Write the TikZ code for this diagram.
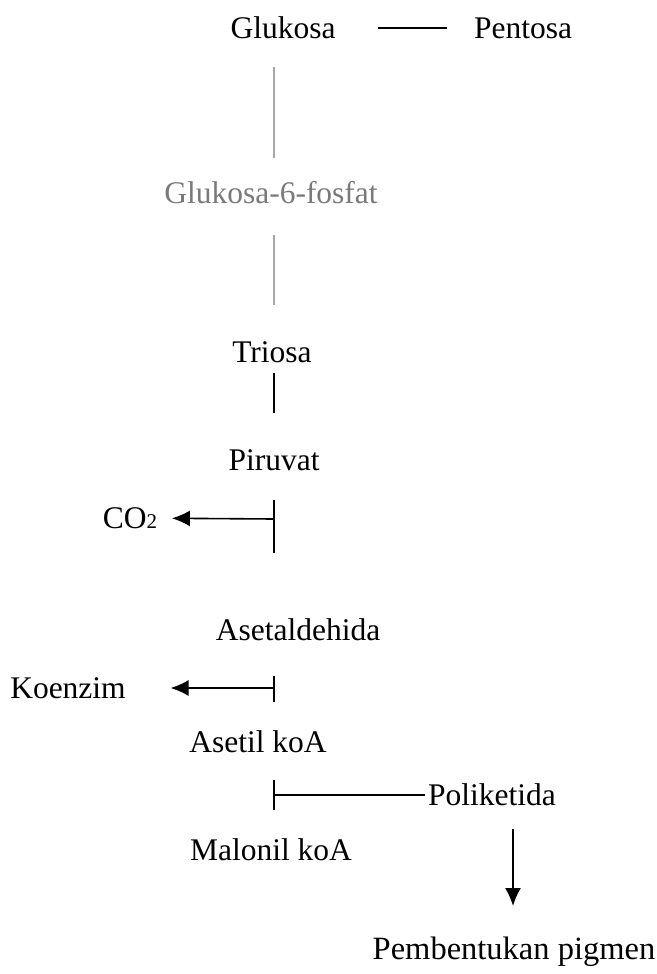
\documentclass[tikz,border=0pt]{standalone}
\usepackage{fontspec}
\setmainfont{Liberation Serif}
\usepackage{tikz}
\usetikzlibrary{arrows.meta,positioning}
\definecolor{fadegray}{HTML}{7A7A7A}
\definecolor{linegray}{HTML}{A8A8A8}
\newcommand{\txtsize}[1]{\fontsize{#1}{#1}\selectfont}

\begin{document}
\begin{tikzpicture}[x=1pt,y=-1pt,
    line width=1.6pt,>={Latex[length=18pt,width=16pt]},
    compound/.style={inner sep=0pt,font=\txtsize{31.5}},
    faded/.style={compound,text=fadegray}]
  \useasboundingbox (0,0) rectangle (656,974);

  \node[compound] (glukosa) at (283,28) {Glukosa};
  \node[compound] (pentosa) at (523,28) {Pentosa};
  \node[faded] (g6p) at (271,193) {Glukosa-6-fosfat};
  \node[compound] (triosa) at (272,352) {Triosa};
  \node[compound] (piruvat) at (274,460) {Piruvat};
  \node[compound] (co2) at (130,518) {CO{\txtsize{21}2}};
  \node[compound] (asetaldehida) at (298,630) {Asetaldehida};
  \node[compound] (koenzim) at (68,688) {Koenzim};
  \node[compound] (asetil) at (258,742) {Asetil koA};
  \node[compound] (poliketida) at (492,795) {Poliketida};
  \node[compound] (malonil) at (271,850) {Malonil koA};
  \node[compound,font=\txtsize{32.5}] (pigmen) at (514,952) {Pembentukan pigmen};

  % trunk points
  \coordinate (g1) at (274,67);
  \coordinate (g2) at (274,158);
  \coordinate (g3) at (274,235);
  \coordinate (g4) at (274,305);
  \coordinate (t1) at (274,373);
  \coordinate (t2) at (274,413);
  \coordinate (p1) at (274,500);
  \coordinate (p2) at (274,553);
  \coordinate (pb) at (274,519);
  \coordinate (k1) at (274,676);
  \coordinate (k2) at (274,702);
  \coordinate (kb) at (274,688);
  \coordinate (m1) at (274,780);
  \coordinate (m2) at (274,810);
  \coordinate (mb) at (274,795);
  \coordinate (q1) at (513,829);
  \coordinate (q2) at (513,906);

  \draw[shorten <=42pt,shorten >=26pt] (glukosa) -- (pentosa);
  \draw[linegray] (g1) -- (g2);
  \draw[linegray] (g3) -- (g4);
  \draw (t1) -- (t2);
  \draw (p1) -- (p2);
  \draw[->,shorten >=14pt] (pb) -- (co2);
  \draw (k1) -- (k2);
  \draw[->,shorten >=44pt] (kb) -- (koenzim);
  \draw (m1) -- (m2);
  \draw[shorten >=2pt] (mb) -- (poliketida);
  \draw[->] (q1) -- (q2);
\end{tikzpicture}
\end{document}
